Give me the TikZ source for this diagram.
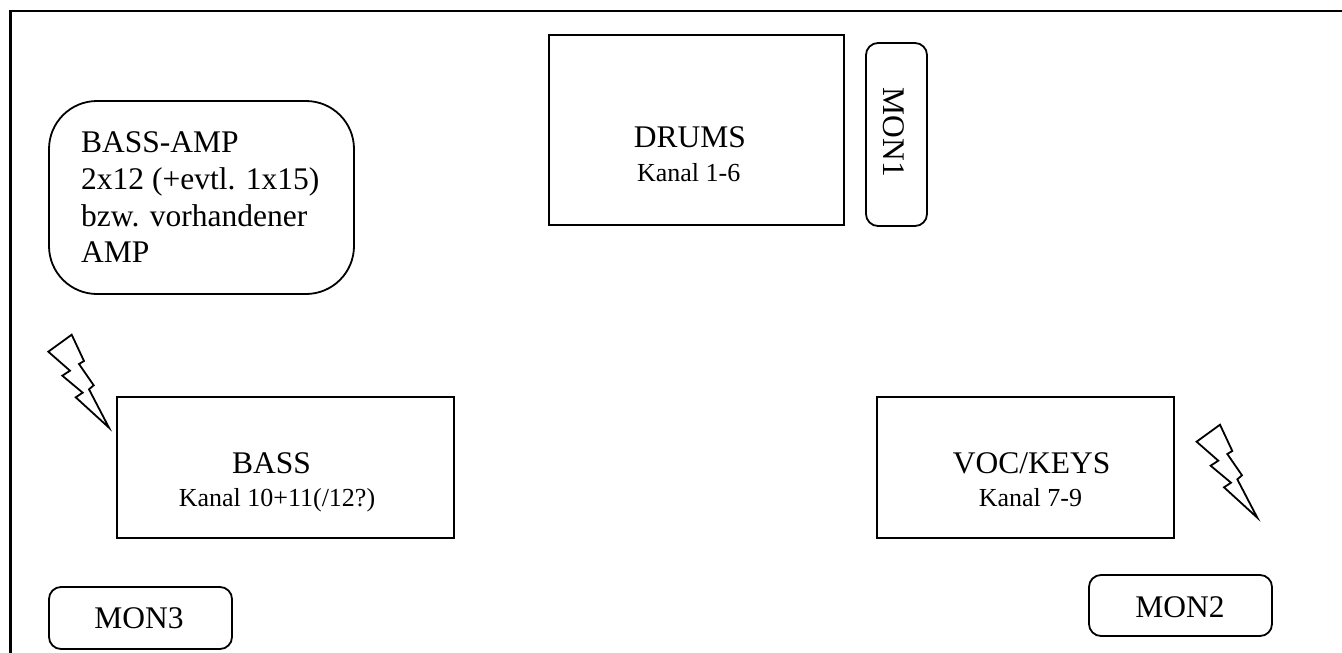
\documentclass[tikz,border=0pt]{standalone}
\usepackage{fontspec}
\setmainfont{Liberation Serif}
\newcommand{\bigtxt}{\fontsize{31.5}{36.7}\selectfont}
\newcommand{\smalltxt}{\fontsize{26}{30}\selectfont}
\newcommand{\boltshape}[1]{%
  \draw[shift={#1},boltline] (71.7,334.7)--(48.3,351.7)--(70,370.7)--(62.3,375.7)--(82.7,392.7)--(75.7,397.3)--(109,427.7)--(89,389.3)--(93.7,385.3)--(79,364)--(84,361)--cycle;}
\tikzset{
  x=1pt,y=-1pt,
  boltline/.style={line width=1.8pt,line join=miter,black},
  framebox/.style={draw,line width=1.8pt,inner sep=0pt,align=center},
  roundbox/.style={framebox,rounded corners=12pt},
  bigrounded/.style={framebox,rounded corners=48pt},
  bigtext/.style={font=\bigtxt,anchor=base,inner sep=0pt},
  smalltext/.style={font=\smalltxt,anchor=base,inner sep=0pt}
}
\begin{document}
\begin{tikzpicture}
\useasboundingbox (0,0) rectangle (1342,653);
\draw[line width=2.2pt] (10.5,653) -- (10.5,11) -- (1342,11);
\node[framebox,minimum width=295pt,minimum height=190pt] (drums) at (696.5,130) {};
\node[bigtext] (drumst) at (690,147.7) {DRUMS};
\node[smalltext] (drumss) at (688.7,181) {Kanal 1-6};
\node[roundbox,minimum width=61pt,minimum height=183pt] (mon1) at (896.5,134.5) {};
\node[bigtext,rotate=-90] (mont1) at (883,132.5) {MON1};
\node[bigrounded,minimum width=305pt,minimum height=193pt] (amp) at (201.5,197.5) {};
\node[bigtext,anchor=base west] (a1) at (81,152.7) {BASS-AMP};
\node[bigtext,anchor=base west] (a2) at (81,189.3) {2x12 (+evtl. 1x15)};
\node[bigtext,anchor=base west] (a3) at (81,226.7) {bzw. vorhandener};
\node[bigtext,anchor=base west] (a4) at (81,262.7) {AMP};
\node[framebox,minimum width=337pt,minimum height=141pt] (bass) at (285.5,467.5) {};
\node[bigtext] (basst) at (271.4,473) {BASS};
\node[smalltext] (basss) at (277,506) {Kanal 10+11(/12?)};
\node[framebox,minimum width=297pt,minimum height=141pt] (voc) at (1025.5,467.5) {};
\node[bigtext] (voct) at (1031.7,473) {VOC/KEYS};
\node[smalltext] (vocs) at (1030.4,506) {Kanal 7-9};
\node[roundbox,minimum width=183pt,minimum height=62pt] (mon3) at (140.5,618) {};
\node[bigtext] (mont3) at (139,628) {MON3};
\node[roundbox,minimum width=183pt,minimum height=61pt] (mon2) at (1180.5,605.5) {};
\node[bigtext] (mont2) at (1180,617) {MON2};
\boltshape{(0,0)}
\boltshape{(1148.3,90)}
\end{tikzpicture}
\end{document}
